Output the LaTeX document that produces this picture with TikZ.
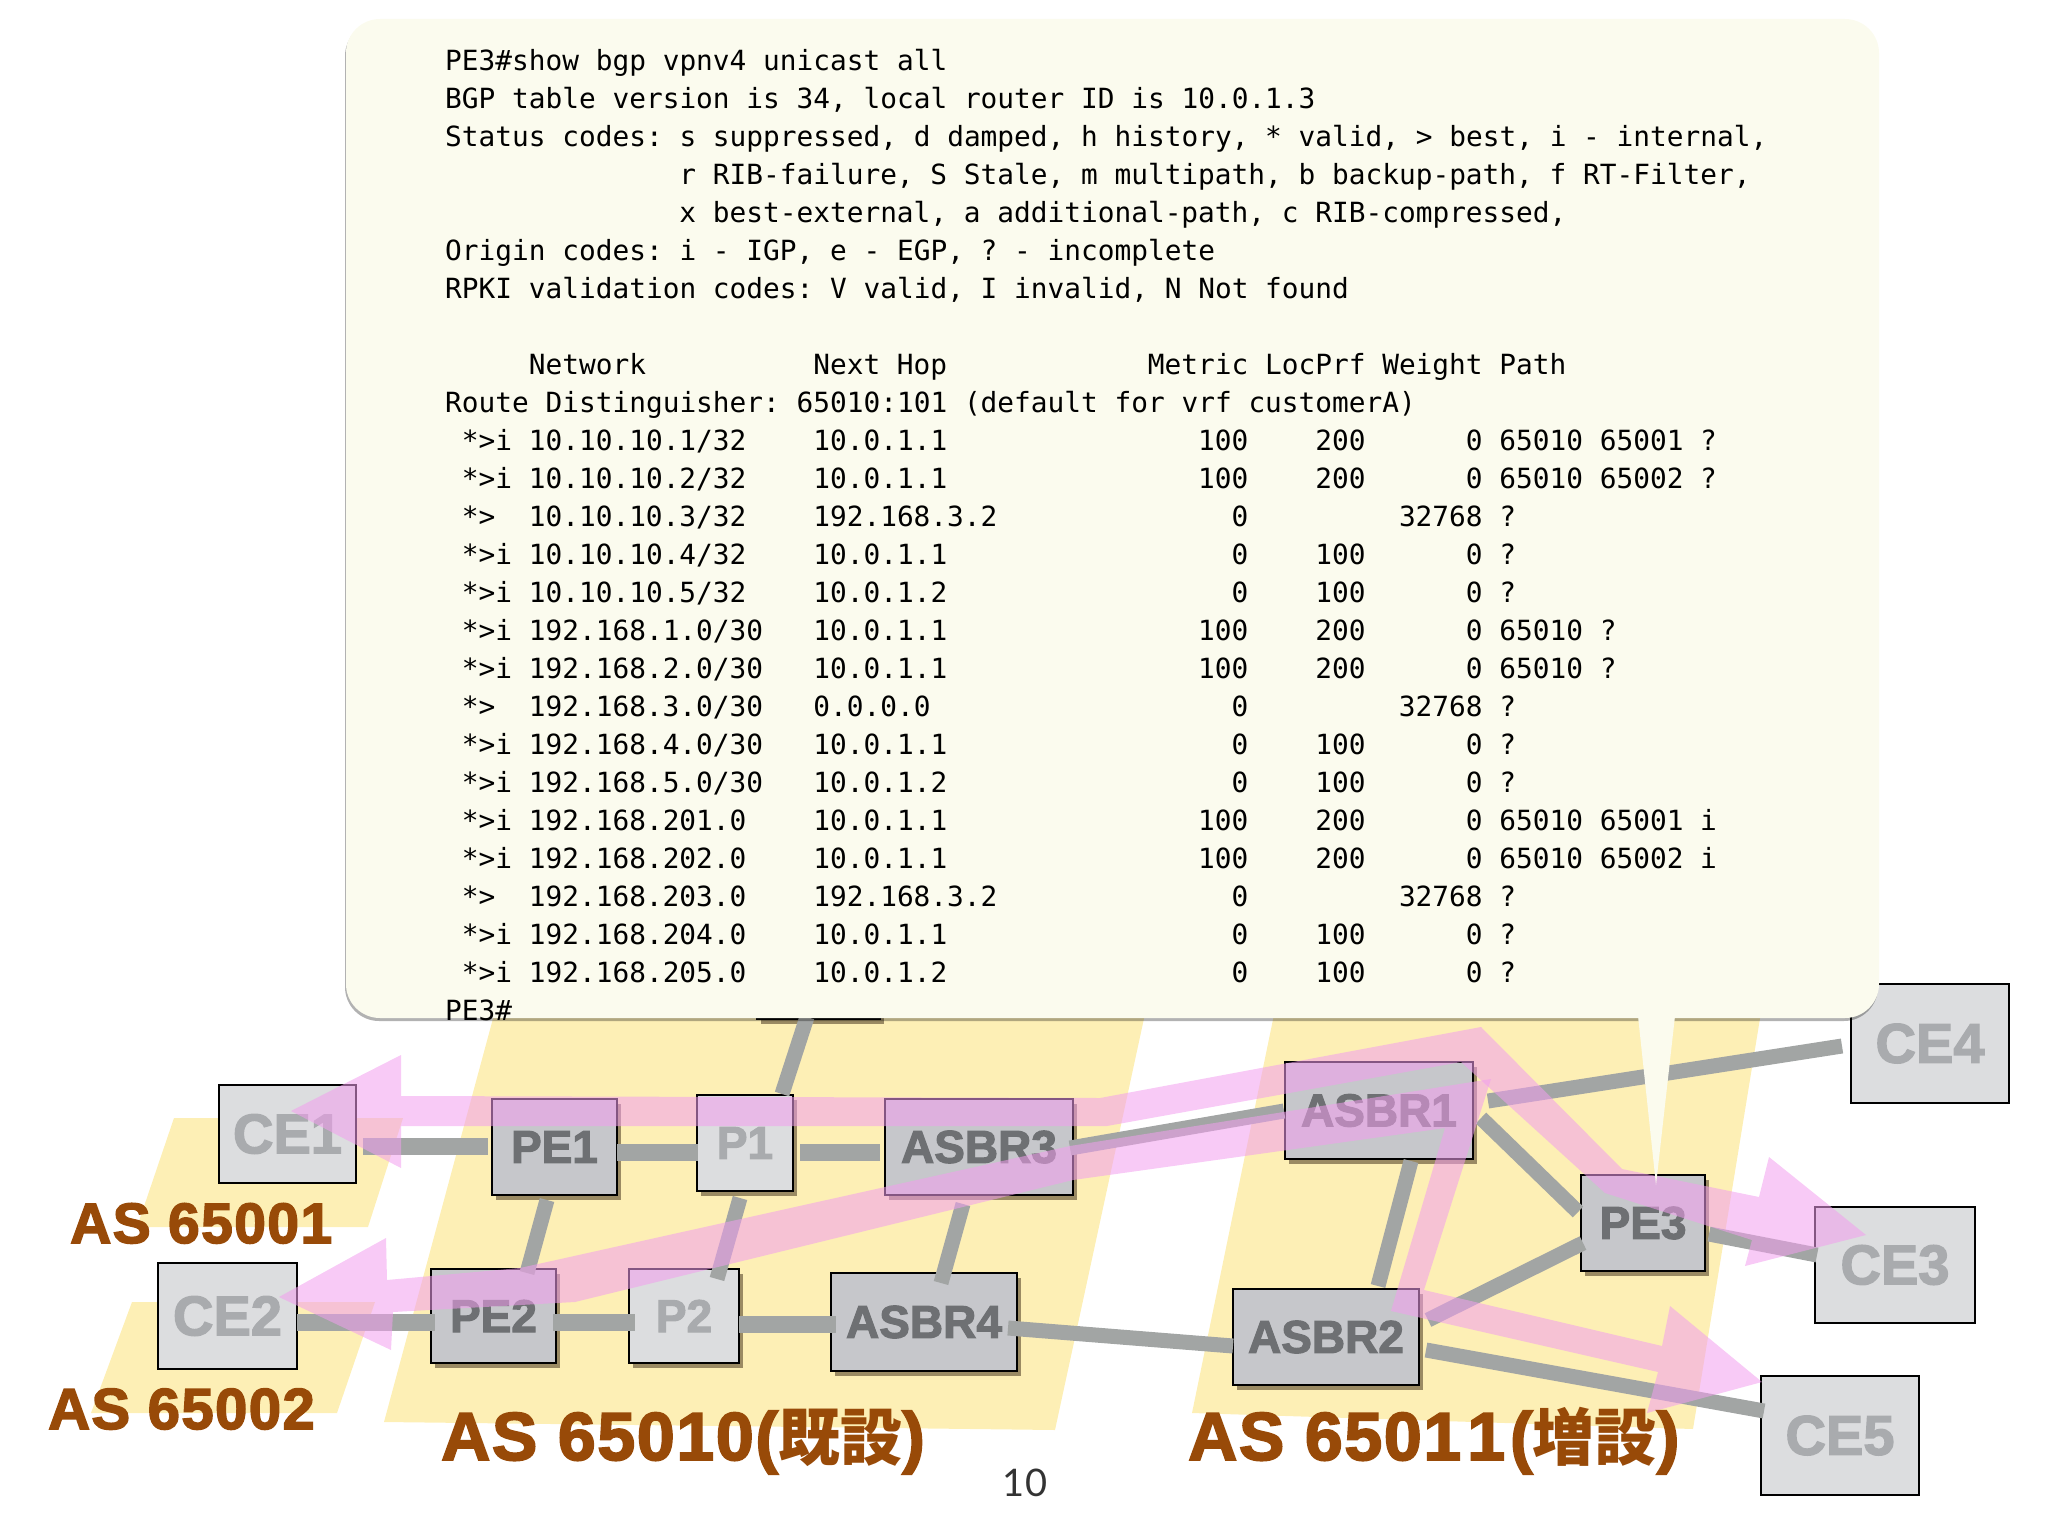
\documentclass[tikz,border=0pt]{standalone}
\usepackage{fontspec}
\usetikzlibrary{shadows}
\newfontfamily\monof{DejaVu Sans Mono}
\newfontfamily\heavy{Liberation Sans}[BoldFeatures={FakeBold=2.4}]
\newfontfamily\heavyw{Liberation Sans}[LetterSpace=2.5,BoldFeatures={FakeBold=2.6}]
\newfontfamily\cjkf{Noto Sans CJK JP}
\newfontfamily\lightf{Lato}
\definecolor{yel}{HTML}{FDEFB5}
\definecolor{brn}{HTML}{984A08}
\definecolor{lnk}{HTML}{A2A5A4}
\definecolor{darkbox}{HTML}{C6C7CB}
\definecolor{lightbox}{HTML}{DCDDDF}
\definecolor{darktxt}{HTML}{6E7073}
\definecolor{lighttxt}{HTML}{A9ABAE}
\definecolor{pinky}{HTML}{F29EEE}
\definecolor{bubble}{HTML}{FBFBEE}
\newlength\chw
\setlength\chw{16.73pt}
\newcommand{\sk}[1]{\hspace*{#1\chw}}
\newcommand{\fs}[1]{\fontsize{#1pt}{#1pt}\selectfont}
\tikzset{
  yelarea/.style={fill=yel},
  basebox/.style={draw=black,line width=2.6pt,inner sep=0pt,font=\heavy\bfseries\fs{46}},
  hasshadow/.style={drop shadow={shadow xshift=4pt,shadow yshift=-5pt,fill=black!70!brown,opacity=.5}},
  cebox/.style={basebox,fill=lightbox,text=lighttxt,font=\heavy\bfseries\fs{56}},
  pbox/.style={basebox,hasshadow,fill=lightbox,text=lighttxt},
  rbox/.style={basebox,hasshadow,fill=darkbox,text=darktxt},
  link/.style={draw=lnk,line width=17pt},
  linkm/.style={draw=lnk,line width=15pt},
  flow/.style={fill=pinky,fill opacity=.55},
  callout/.style={fill=bubble,drop shadow={shadow xshift=-1pt,shadow yshift=-3pt,fill=black,opacity=.3}},
  aslabel/.style={inner sep=0pt,anchor=base west,text=brn,font=\heavyw\bfseries\fs{58}},
  aslabelbig/.style={inner sep=0pt,anchor=base west,text=brn,font=\heavyw\bfseries\fs{68}},
}
\begin{document}
\begin{tikzpicture}[x=1pt,y=-1pt]
\useasboundingbox (0,0) rectangle (2048,1536);
% AS areas
\fill[yelarea] (174,1118) -- (403,1118) -- (368,1227) -- (137,1227) -- cycle;
\fill[yelarea] (132,1302) -- (375,1302) -- (337,1413) -- (91,1413) -- cycle;
\fill[yelarea] (498,1000) -- (1148,1000) -- (1055,1430) -- (384,1422) -- cycle;
\fill[yelarea] (1277,1000) -- (1763,1000) -- (1693,1429) -- (1192,1413) -- cycle;
% boxes
\node[rbox,minimum width=123pt,minimum height=119pt] (hid) at (818.5,959.5) {};
\node[cebox,minimum width=137pt,minimum height=98pt] (ce1) at (287.5,1134) {CE1};
\node[rbox,minimum width=125pt,minimum height=96pt] (pe1) at (554.5,1147) {PE1};
\node[pbox,minimum width=96pt,minimum height=96pt] (p1) at (745,1143) {P1};
\node[rbox,minimum width=188pt,minimum height=96pt] (asbr3) at (979,1147) {ASBR3};
\node[cebox,minimum width=139pt,minimum height=106pt] (ce2) at (227.5,1316) {CE2};
\node[rbox,minimum width=125pt,minimum height=94pt] (pe2) at (493.5,1316) {PE2};
\node[pbox,minimum width=110pt,minimum height=94pt] (p2) at (684,1316) {P2};
\node[rbox,minimum width=186pt,minimum height=98pt] (asbr4) at (924,1322) {ASBR4};
\node[rbox,minimum width=188pt,minimum height=97pt] (asbr1) at (1379,1110.5) {ASBR1};
\node[rbox,minimum width=186pt,minimum height=96pt] (asbr2) at (1326,1337) {ASBR2};
\node[rbox,minimum width=124pt,minimum height=96pt] (pe3) at (1643,1223) {PE3};
\node[cebox,minimum width=158pt,minimum height=119pt] (ce4) at (1930,1043.5) {CE4};
\node[cebox,minimum width=160pt,minimum height=116pt] (ce3) at (1895,1265) {CE3};
\node[cebox,minimum width=158pt,minimum height=119pt] (ce5) at (1840,1435.5) {CE5};
% connectors
\draw[link] ([shift={(75.5,12)}]ce1.center) -- ([shift={(-66.5,-1)}]pe1.center);
\draw[link] ([shift={(62.5,5)}]pe1.center) -- ([shift={(-47,9)}]p1.center);
\draw[link] ([shift={(55,9)}]p1.center) -- ([shift={(-99,5)}]asbr3.center);
\draw[link] ([shift={(69.5,6)}]ce2.center) -- ([shift={(-58.5,6)}]pe2.center);
\draw[link] ([shift={(59.5,6)}]pe2.center) -- ([shift={(-49,6)}]p2.center);
\draw[link] ([shift={(55,8)}]p2.center) -- ([shift={(-88,2)}]asbr4.center);
\draw[linkm] ([shift={(91,1)}]asbr3.center) -- ([shift={(-95,0.5)}]asbr1.center);
\draw[linkm] ([shift={(109,-9.5)}]asbr1.center) -- ([shift={(-88,2.5)}]ce4.center);
\draw[linkm] ([shift={(102,7.5)}]asbr1.center) -- ([shift={(-65,-11)}]pe3.center);
\draw[linkm] ([shift={(32,50.5)}]asbr1.center) -- ([shift={(52,-51)}]asbr2.center);
\draw[linkm] ([shift={(102,-17)}]asbr2.center) -- ([shift={(-60,20)}]pe3.center);
\draw[linkm] ([shift={(100,13)}]asbr2.center) -- ([shift={(-76,-24.5)}]ce5.center);
\draw[linkm] ([shift={(84,6)}]asbr4.center) -- ([shift={(-93,9)}]asbr2.center);
\draw[linkm] ([shift={(66,11)}]pe3.center) -- ([shift={(-78,-10)}]ce3.center);
\draw[linkm] ([shift={(-7.5,53)}]pe1.center) -- ([shift={(33.5,-43)}]pe2.center);
\draw[linkm] ([shift={(-5,55)}]p1.center) -- ([shift={(33,-37)}]p2.center);
\draw[linkm] ([shift={(-16,57)}]asbr3.center) -- ([shift={(17,-39)}]asbr4.center);
\draw[linkm] ([shift={(-11.5,57.5)}]hid.center) -- ([shift={(37,-49)}]p1.center);
% traffic arrows
\fill[flow] (291,1111) -- (401,1055) -- (401,1096) -- (1100,1098) -- (1481,1027) -- (1622,1169) -- (1759,1197) -- (1769,1157) -- (1866,1235) -- (1745,1266) -- (1752,1240) -- (1605,1193) -- (1461,1062) -- (1107,1126) -- (401,1126) -- (401,1168) -- cycle;
\fill[flow] (279,1297) -- (386,1238) -- (387,1280) -- (520,1268) -- (1070,1146) -- (1491,1079) -- (1424,1290) -- (1662,1346) -- (1670,1306) -- (1762,1382) -- (1647,1413) -- (1658,1372) -- (1391,1311) -- (1445,1128) -- (1073,1180) -- (575,1302) -- (393,1312) -- (391,1350) -- cycle;
% labels
\node[aslabel,font=\heavyw\bfseries\fs{57}] (l1) at (70,1243) {AS 65001};
\node[aslabel] (l2) at (48,1429) {AS 65002};
\node[aslabelbig] (l3) at (441,1460) {AS 65010({\cjkf\bfseries\fs{62}既設})};
\node[aslabelbig] (l4) at (1188,1460) {AS 6501\kern6pt 1\kern5pt({\cjkf\bfseries\fs{62}増設})};
\node[inner sep=0pt,anchor=base,font=\lightf\fs{38},text=black!80] (pg) at (1025,1496) {10};
% callout
\path[callout] [rounded corners=34pt] (346,19) rectangle (1879,1018);
\fill[bubble] (1675,1016) -- (1656,1185) -- (1638,1016) -- cycle;
\node[inner sep=0pt,anchor=north west,align=left,font={\monof\fontsize{27.8pt}{37.98pt}\selectfont\frenchspacing}] (out) at (445,49.5) {%
PE3\#show bgp vpnv4 unicast all\\
BGP table version is 34, local router ID is 10.0.1.3\\
Status codes: s suppressed, d damped, h history, * valid, > best, i - internal,\\
\sk{14}r RIB-failure, S Stale, m multipath, b backup-path, f RT-Filter,\\
\sk{14}x best-external, a additional-path, c RIB-compressed,\\
Origin codes: i - IGP, e - EGP, ? - incomplete\\
RPKI validation codes: V valid, I invalid, N Not found\\
~\\
\sk{5}Network\sk{10}Next Hop\sk{12}Metric LocPrf Weight Path\\
Route Distinguisher: 65010:101 (default for vrf customerA)\\
\sk{1}*>i 10.10.10.1/32\sk{4}10.0.1.1\sk{15}100\sk{4}200\sk{6}0 65010 65001 ?\\
\sk{1}*>i 10.10.10.2/32\sk{4}10.0.1.1\sk{15}100\sk{4}200\sk{6}0 65010 65002 ?\\
\sk{1}*>\sk{2}10.10.10.3/32\sk{4}192.168.3.2\sk{14}0\sk{9}32768 ?\\
\sk{1}*>i 10.10.10.4/32\sk{4}10.0.1.1\sk{17}0\sk{4}100\sk{6}0 ?\\
\sk{1}*>i 10.10.10.5/32\sk{4}10.0.1.2\sk{17}0\sk{4}100\sk{6}0 ?\\
\sk{1}*>i 192.168.1.0/30\sk{3}10.0.1.1\sk{15}100\sk{4}200\sk{6}0 65010 ?\\
\sk{1}*>i 192.168.2.0/30\sk{3}10.0.1.1\sk{15}100\sk{4}200\sk{6}0 65010 ?\\
\sk{1}*>\sk{2}192.168.3.0/30\sk{3}0.0.0.0\sk{18}0\sk{9}32768 ?\\
\sk{1}*>i 192.168.4.0/30\sk{3}10.0.1.1\sk{17}0\sk{4}100\sk{6}0 ?\\
\sk{1}*>i 192.168.5.0/30\sk{3}10.0.1.2\sk{17}0\sk{4}100\sk{6}0 ?\\
\sk{1}*>i 192.168.201.0\sk{4}10.0.1.1\sk{15}100\sk{4}200\sk{6}0 65010 65001 i\\
\sk{1}*>i 192.168.202.0\sk{4}10.0.1.1\sk{15}100\sk{4}200\sk{6}0 65010 65002 i\\
\sk{1}*>\sk{2}192.168.203.0\sk{4}192.168.3.2\sk{14}0\sk{9}32768 ?\\
\sk{1}*>i 192.168.204.0\sk{4}10.0.1.1\sk{17}0\sk{4}100\sk{6}0 ?\\
\sk{1}*>i 192.168.205.0\sk{4}10.0.1.2\sk{17}0\sk{4}100\sk{6}0 ?\\
PE3\#};
\end{tikzpicture}
\end{document}
